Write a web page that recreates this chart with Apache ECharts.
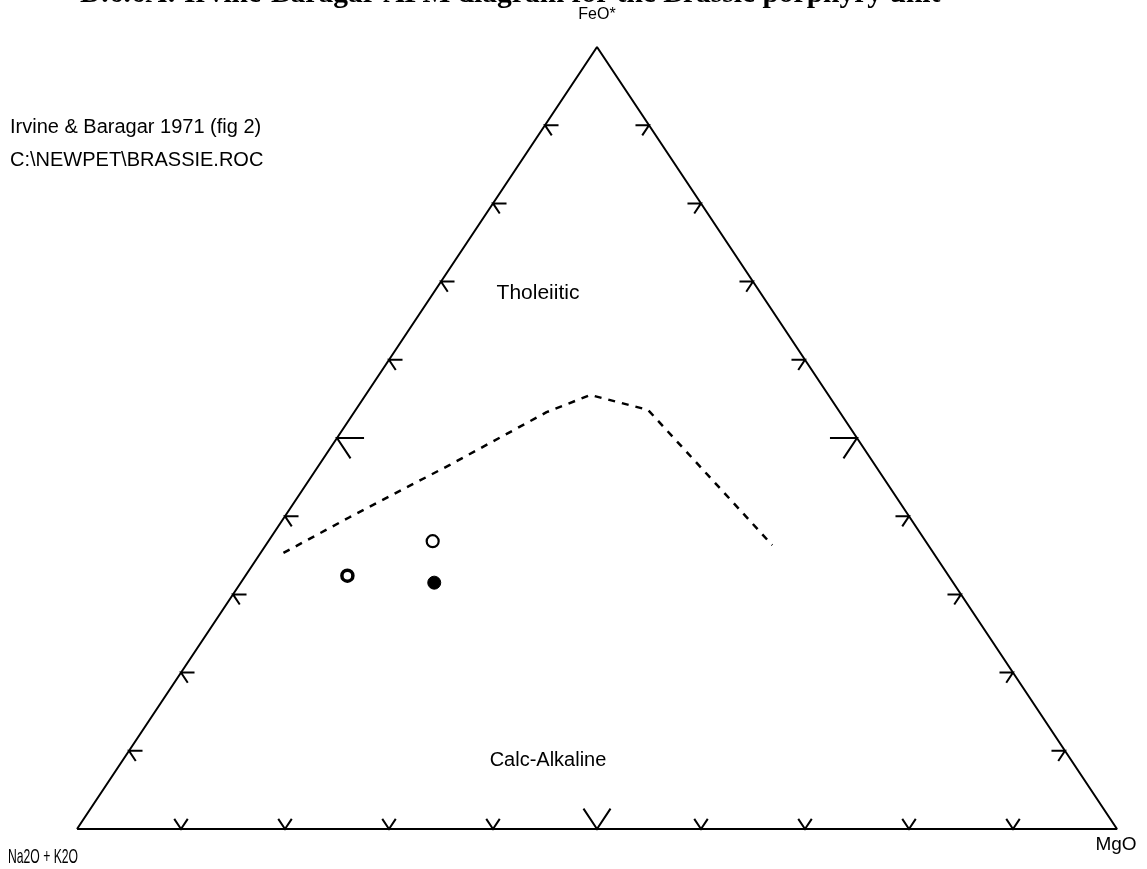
<!DOCTYPE html>
<html>
<head>
<meta charset="utf-8">
<script src="https://cdn.jsdelivr.net/npm/echarts@6/dist/echarts.min.js"></script>
<style>
  html, body { margin: 0; padding: 0; background: #fff; }
  #main { width: 1147px; height: 869px; }
</style>
</head>
<body>
<div id="main"></div>
<script>
// ternary components in percent: A = Na2O + K2O, F = FeO*, M = MgO
const tickPercents = [10, 20, 30, 40, 50, 60, 70, 80, 90];
const bigTickPercent = 50;

// Irvine & Baragar tholeiitic / calc-alkaline boundary
const boundaryA = [62.5, 53.8, 40.8, 28.2, 22.9, 18.3, 15.0];
const boundaryF = [35.3, 39.9, 46.6, 53.3, 55.5, 53.6, 36.3];
const boundaryM = [2.2, 6.3, 12.6, 18.5, 21.6, 28.1, 48.7];

// samples
const halfA = [57.8], halfF = [32.4], halfM = [9.8];
const openA = [47.4], openF = [36.8], openM = [15.8];
const fullA = [49.9], fullF = [31.5], fullM = [18.6];

function toXY(a, f, m) {
  let s = a + f + m;
  f = f / s; m = m / s;
  return [m + f / 2, f];
}
function pts(A, F, M) {
  return A.map((a, i) => toXY(a, F[i], M[i]));
}

// triangle outline
let outline = [toXY(100, 0, 0), toXY(0, 100, 0), toXY(0, 0, 100), toXY(100, 0, 0)];

// edge ticks: short pieces of the two grid lines that meet each edge point
let ticks = [];
tickPercents.forEach(t => {
  let d = (t === bigTickPercent ? 2.6 : 1.3);
  // left edge (A-F), F = t
  ticks.push([toXY(100 - t - d, t, d), toXY(100 - t, t, 0), toXY(100 - t, t - d, d)]);
  // right edge (F-M), F = t
  ticks.push([toXY(d, t, 100 - t - d), toXY(0, t, 100 - t), toXY(d, t - d, 100 - t)]);
  // base (A-M), M = t
  ticks.push([toXY(100 - t, d, t - d), toXY(100 - t, 0, t), toXY(100 - t - d, d, t)]);
});

let chart = echarts.init(document.getElementById('main'));
const lab = { fontFamily: 'Liberation Sans', fontSize: 19, fill: '#000' };

chart.setOption({
  backgroundColor: '#fff',
  animation: false,
  grid: { left: 77, right: 30, top: 47, bottom: 40 },
  xAxis: { type: 'value', min: 0, max: 1, show: false },
  yAxis: { type: 'value', min: 0, max: 1, show: false },
  series: [
    {
      type: 'line', data: outline, symbol: 'none',
      lineStyle: { color: '#000', width: 2 }
    },
    {
      type: 'custom',
      data: ticks.map(p => [p[0][0], p[0][1], p[1][0], p[1][1], p[2][0], p[2][1]]),
      renderItem: function (params, api) {
        let p = [
          api.coord([api.value(0), api.value(1)]),
          api.coord([api.value(2), api.value(3)]),
          api.coord([api.value(4), api.value(5)])
        ];
        return {
          type: 'polyline',
          shape: { points: p },
          style: { stroke: '#000', lineWidth: 2, fill: null }
        };
      }
    },
    {
      type: 'line', data: pts(boundaryA, boundaryF, boundaryM), symbol: 'none',
      lineStyle: { color: '#000', width: 2.5, type: [7, 7] }
    },
    {
      type: 'scatter', data: pts(halfA, halfF, halfM), symbol: 'circle', symbolSize: 11,
      itemStyle: { color: '#fff', borderColor: '#000', borderWidth: 3.5, opacity: 1 }
    },
    {
      type: 'scatter', data: pts(openA, openF, openM), symbol: 'circle', symbolSize: 12,
      itemStyle: { color: '#fff', borderColor: '#000', borderWidth: 2.2, opacity: 1 }
    },
    {
      type: 'scatter', data: pts(fullA, fullF, fullM), symbol: 'circle', symbolSize: 13,
      itemStyle: { color: '#000', borderColor: '#000', borderWidth: 1, opacity: 1 }
    }
  ],
  graphic: [
    { type: 'text', left: 80, top: -21,
      style: { text: 'D.6.6A: Irvine-Baragar AFM diagram for the Brassie porphyry unit',
        fontFamily: 'Liberation Serif', fontWeight: 'bold', fontSize: 29.5, fill: '#000' } },
    { type: 'text', x: 597, y: 15, style: Object.assign({}, lab, { text: 'FeO*', align: 'center', verticalAlign: 'middle', fontSize: 16 }) },
    { type: 'text', x: 10, y: 127, style: Object.assign({}, lab, { text: 'Irvine & Baragar 1971 (fig 2)', verticalAlign: 'middle', fontSize: 20 }) },
    { type: 'text', x: 10, y: 160, style: Object.assign({}, lab, { text: 'C:\\NEWPET\\BRASSIE.ROC', verticalAlign: 'middle', fontSize: 20 }) },
    { type: 'text', x: 538, y: 293, style: Object.assign({}, lab, { text: 'Tholeiitic', align: 'center', verticalAlign: 'middle', fontSize: 21 }) },
    { type: 'text', x: 548, y: 760, style: Object.assign({}, lab, { text: 'Calc-Alkaline', align: 'center', verticalAlign: 'middle', fontSize: 20 }) },
    { type: 'text', x: 8, y: 857, scaleX: 0.58, style: Object.assign({}, lab, { text: 'Na2O + K2O', verticalAlign: 'middle', fontSize: 21 }) },
    { type: 'text', x: 1116, y: 845, style: Object.assign({}, lab, { text: 'MgO', align: 'center', verticalAlign: 'middle', fontSize: 19 }) }
  ]
});
</script>
</body>
</html>
